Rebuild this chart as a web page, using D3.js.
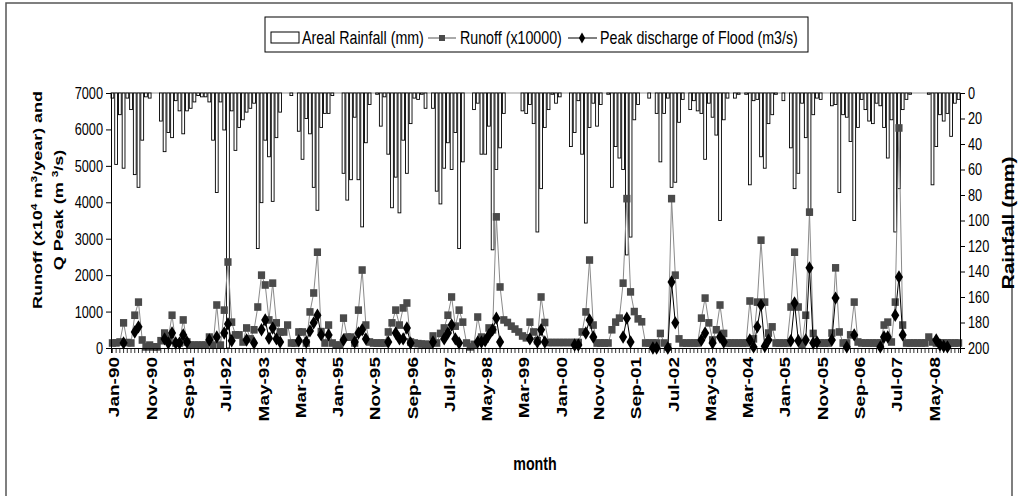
<!DOCTYPE html>
<html>
<head>
<meta charset="utf-8">
<script src="https://cdn.jsdelivr.net/npm/d3@7"></script>
<style>
body { margin: 0; background: #fff; }
svg { display: block; }
text { font-family: 'Liberation Sans', Arial, sans-serif; fill: #000; }
</style>
</head>
<body>
<div id="chart-area"></div>
<script>
// categories
var years = ["90","91","92","93","94","95","96","97","98","99","00","01","02","03","04","05","06","07","08"];
var monthNames = ["Jan","Feb","Mar","Apr","May","Jun","Jul","Aug","Sep","Oct","Nov","Dec"];
var tickLabels = ["Jan-90","Nov-90","Sep-91","Jul-92","May-93","Mar-94","Jan-95","Nov-95","Sep-96","Jul-97",
    "May-98","Mar-99","Jan-00","Nov-00","Sep-01","Jul-02","May-03","Mar-04","Jan-05","Nov-05","Sep-06","Jul-07","May-08"];
var leftTicks = [0,1000,2000,3000,4000,5000,6000,7000];
var rightTicks = [0,20,40,60,80,100,120,140,160,180,200];

// areal rainfall (mm), one row per year
var rainfall = [].concat(
    [4, 56, 17, 59, 4, 13, 64, 74, 37, 3, 4, 0],
    [0, 22, 46, 31, 35, 6, 14, 32, 14, 12, 7, 2],
    [3, 3, 7, 37, 78, 7, 29, 200, 14, 45, 27, 21],
    [15, 12, 8, 122, 86, 37, 50, 85, 35, 15, 0, 0],
    [2, 0, 30, 52, 20, 32, 74, 92, 27, 16, 16, 2],
    [0, 0, 63, 84, 68, 19, 68, 105, 39, 9, 0, 1],
    [26, 3, 48, 90, 66, 94, 37, 63, 24, 4, 5, 1],
    [12, 0, 12, 77, 87, 59, 39, 60, 31, 122, 54, 0],
    [0, 13, 8, 48, 48, 26, 123, 60, 43, 16, 0, 0],
    [0, 0, 14, 16, 9, 24, 109, 75, 27, 13, 1, 8],
    [3, 0, 0, 42, 31, 6, 48, 102, 27, 8, 26, 9],
    [0, 1, 74, 42, 51, 60, 127, 113, 21, 9, 0, 0],
    [4, 0, 16, 54, 16, 4, 74, 70, 23, 5, 0, 13],
    [6, 14, 16, 52, 8, 19, 33, 100, 21, 4, 0, 4],
    [1, 0, 1, 72, 6, 5, 50, 59, 24, 17, 1, 0],
    [6, 0, 43, 75, 63, 8, 35, 96, 17, 4, 5, 0],
    [0, 10, 9, 78, 17, 19, 38, 100, 27, 5, 13, 22],
    [24, 8, 10, 27, 51, 21, 109, 75, 13, 5, 1, 0],
    [0, 0, 0, 1, 72, 42, 17, 22, 16, 34, 8, 5]
);

// runoff (x10000 m3)
var runoff = [].concat(
    [137, 140, 165, 690, 150, 137, 900, 1260, 220, 30, 80, 30],
    [30, 200, 410, 270, 900, 137, 137, 770, 165, 80, 80, 80],
    [80, 80, 300, 80, 1180, 80, 1040, 2360, 710, 360, 360, 165],
    [550, 250, 500, 1125, 2000, 1730, 770, 1780, 690, 440, 440, 630],
    [137, 137, 440, 440, 137, 990, 1510, 2630, 450, 137, 630, 137],
    [80, 80, 820, 300, 300, 137, 1040, 2140, 630, 165, 137, 137],
    [137, 137, 440, 690, 1040, 630, 1100, 1235, 165, 137, 120, 110],
    [100, 100, 330, 137, 400, 550, 900, 1400, 600, 1040, 710, 137],
    [30, 100, 850, 300, 250, 550, 500, 3600, 1675, 770, 700, 600],
    [520, 440, 330, 280, 710, 440, 200, 1400, 700, 150, 150, 150],
    [150, 150, 150, 150, 150, 150, 440, 990, 2415, 630, 137, 137],
    [137, 137, 500, 710, 820, 1780, 4100, 1540, 1000, 800, 720, 137],
    [137, 137, 137, 400, 137, 30, 4100, 2000, 250, 137, 137, 137],
    [137, 137, 820, 1370, 690, 220, 500, 1180, 400, 137, 137, 137],
    [137, 137, 137, 1290, 250, 1260, 2960, 1260, 410, 580, 137, 137],
    [137, 137, 1125, 2630, 1125, 80, 900, 3730, 400, 137, 137, 137],
    [137, 410, 2200, 440, 137, 137, 360, 1260, 165, 137, 137, 137],
    [137, 137, 137, 630, 710, 165, 1260, 6040, 630, 137, 137, 137],
    [137, 137, 137, 300, 165, 137, 137, 137, 137, 137, 137, 137]
);

// peak discharge of flood (m3/s), null = no value
var peak = [].concat(
    [null, null, null, 140, null, null, 440, 580, null, null, null, null],
    [null, null, 250, 137, 410, 137, 137, 360, 165, null, null, null],
    [null, null, 220, null, 300, null, 410, 660, 200, null, null, null],
    [220, null, 137, null, 500, 770, 270, 550, 250, 165, null, null],
    [null, null, 200, null, 165, 470, 690, 900, 360, null, 360, null],
    [null, null, 220, null, null, 165, 410, 500, 250, null, null, null],
    [null, null, 165, null, 410, 250, 250, 550, 137, null, null, null],
    [null, null, 165, null, null, 250, 410, 630, 250, 137, null, null],
    [null, null, 165, 165, 200, 360, 500, 820, 165, null, null, null],
    [null, null, null, null, 250, null, 165, 500, 165, null, null, null],
    [null, null, null, null, 80, 80, null, 410, 770, 300, null, null],
    [null, null, null, null, null, 300, 820, 165, null, null, null, null],
    [null, 0, 0, null, null, 0, 1810, 690, null, null, null, null],
    [null, null, 220, 410, null, 137, null, 300, 165, null, null, null],
    [null, null, null, 220, 30, 580, 1180, 50, 220, null, null, null],
    [null, null, 200, 1235, 200, null, 220, 2200, 137, 165, null, null],
    [null, 220, 1370, null, null, 30, null, 360, null, null, null, null],
    [null, null, 30, 300, 300, null, 900, 1950, 360, null, null, null],
    [null, null, null, null, null, 220, 80, 50, 30, null, null, null]
);

var months = [];
years.forEach(function(y){
    monthNames.forEach(function(m){ months.push(m + "-" + y); });
});

var width = 1019, height = 496;
var plotLeft = 111, plotRight = 960, plotTop = 93, plotBottom = 348;
var sq = 0.75; // horizontal squeeze of the original picture

var svg = d3.select("#chart-area").append("svg")
    .attr("width", width)
    .attr("height", height);

// outer frame
svg.append("path")
    .attr("d", "M6,600 L6,3 L1012,3 L1012,600")
    .attr("fill", "none")
    .attr("stroke", "#555")
    .attr("stroke-width", 1.5);

var x = d3.scaleBand().domain(d3.range(months.length)).range([plotLeft, plotRight]).paddingInner(0.25);
function cx(i){ return x(i) + x.bandwidth() / 2; }
var yL = d3.scaleLinear().domain([0, 7000]).range([plotBottom, plotTop]);
var yR = d3.scaleLinear().domain([0, 200]).range([plotTop, plotBottom]);

// plot top line
svg.append("line")
    .attr("x1", plotLeft).attr("x2", plotRight)
    .attr("y1", plotTop).attr("y2", plotTop)
    .attr("stroke", "#999").attr("stroke-width", 1);

// rainfall bars hanging from the top
svg.append("g").selectAll("rect")
    .data(rainfall)
    .enter()
    .append("rect")
        .attr("x", function(d, i){ return x(i); })
        .attr("y", yR(0))
        .attr("width", x.bandwidth())
        .attr("height", function(d){ return yR(d) - yR(0); })
        .attr("fill", "white")
        .attr("stroke", "black")
        .attr("stroke-width", 0.9);

// runoff line + squares
var runoffLine = d3.line()
    .x(function(d, i){ return cx(i); })
    .y(function(d){ return yL(d); });
svg.append("path")
    .datum(runoff)
    .attr("d", runoffLine)
    .attr("fill", "none")
    .attr("stroke", "#8a8a8a")
    .attr("stroke-width", 1);
svg.append("g").selectAll("rect")
    .data(runoff)
    .enter()
    .append("rect")
        .attr("x", function(d, i){ return cx(i) - 3.6; })
        .attr("y", function(d){ return yL(d) - 3.8; })
        .attr("width", 7.2)
        .attr("height", 7.6)
        .attr("fill", "#4a4a4a");

// peak discharge line + diamonds
var peakLine = d3.line()
    .defined(function(d){ return d !== null; })
    .x(function(d, i){ return cx(i); })
    .y(function(d){ return yL(d); });
svg.append("path")
    .datum(peak)
    .attr("d", peakLine)
    .attr("fill", "none")
    .attr("stroke", "black")
    .attr("stroke-width", 1);
var diamond = d3.symbol().type(d3.symbolDiamond).size(52);
svg.append("g").selectAll("path")
    .data(peak.map(function(d, i){ return {v: d, i: i}; }).filter(function(d){ return d.v !== null; }))
    .enter()
    .append("path")
        .attr("d", diamond)
        .attr("transform", function(d){ return "translate(" + cx(d.i) + "," + yL(d.v) + ") scale(1.05,1)"; })
        .attr("fill", "black");

// axes
var xAxis = d3.axisBottom(x).tickSize(5).tickFormat("");
svg.append("g")
    .attr("transform", "translate(0," + plotBottom + ")")
    .call(xAxis)
    .call(function(g){
        g.select(".domain").attr("stroke", "black");
        g.selectAll(".tick line").attr("stroke", "black").attr("stroke-width", 0.8);
    });

var yAxisL = d3.axisLeft(yL).tickValues(leftTicks).tickSize(5).tickFormat("");
svg.append("g")
    .attr("transform", "translate(" + plotLeft + ",0)")
    .call(yAxisL)
    .call(function(g){ g.select(".domain").attr("stroke", "black"); });

var yAxisR = d3.axisRight(yR).tickValues(rightTicks).tickSize(5).tickFormat("");
svg.append("g")
    .attr("transform", "translate(" + plotRight + ",0)")
    .call(yAxisR)
    .call(function(g){ g.select(".domain").attr("stroke", "black"); });

// squeezed text helper
function label(xp, yp, str, opts){
    var t = svg.append("text")
        .attr("transform", "translate(" + xp + "," + yp + ") scale(" + sq + ",1)" + (opts.rot ? " rotate(-90)" : ""))
        .attr("font-size", opts.size)
        .attr("font-weight", opts.bold ? "bold" : "normal")
        .attr("text-anchor", opts.anchor || "start")
        .attr("dy", opts.dy || 0);
    return t.text(str);
}

leftTicks.forEach(function(v){
    label(103, yL(v), v, {size: 17, anchor: "end", dy: "0.35em"});
});
rightTicks.forEach(function(v){
    label(968, yR(v), v, {size: 17, anchor: "start", dy: "0.35em"});
});

tickLabels.forEach(function(t){
    var i = months.indexOf(t);
    label(cx(i) + 2, 357, t, {size: 19, bold: true, rot: true, anchor: "end", dy: "0.35em"});
});

label(535, 470, "month", {size: 19, bold: true, anchor: "middle"});

// left title (two lines with superscripts)
var t1 = label(42, 200, "", {size: 18, bold: true, rot: true, anchor: "middle"});
t1.append("tspan").text("Runoff (x10");
t1.append("tspan").attr("dy", -7).attr("font-size", 12).text("4");
t1.append("tspan").attr("dy", 7).text(" m");
t1.append("tspan").attr("dy", -7).attr("font-size", 12).text("3");
t1.append("tspan").attr("dy", 7).text("/year) and");
var t2 = label(63, 210, "", {size: 18, bold: true, rot: true, anchor: "middle"});
t2.append("tspan").text("Q Peak (m ");
t2.append("tspan").attr("dy", -7).attr("font-size", 12).text("3");
t2.append("tspan").attr("dy", 7).text("/s)");

label(1014, 223, "Rainfall (mm)", {size: 21, bold: true, rot: true, anchor: "middle"});

// legend
var lg = svg.append("g");
lg.append("rect")
    .attr("x", 265).attr("y", 17).attr("width", 543).attr("height", 35)
    .attr("fill", "white").attr("stroke", "black").attr("stroke-width", 1);
lg.append("rect")
    .attr("x", 271).attr("y", 32).attr("width", 28).attr("height", 11)
    .attr("fill", "white").attr("stroke", "black").attr("stroke-width", 1);
label(302, 44, "Areal Rainfall (mm)", {size: 19});
lg.append("line").attr("x1", 428).attr("x2", 456).attr("y1", 38).attr("y2", 38)
    .attr("stroke", "#555").attr("stroke-width", 1);
lg.append("rect").attr("x", 439).attr("y", 35).attr("width", 6).attr("height", 6).attr("fill", "#4a4a4a");
label(460, 44, "Runoff (x10000)", {size: 19});
lg.append("line").attr("x1", 568).attr("x2", 597).attr("y1", 38).attr("y2", 38)
    .attr("stroke", "black").attr("stroke-width", 1);
lg.append("path").attr("d", d3.symbol().type(d3.symbolDiamond).size(34))
    .attr("transform", "translate(582,38)").attr("fill", "black");
label(600, 44, "Peak discharge of Flood (m3/s)", {size: 19});
</script>
</body>
</html>
